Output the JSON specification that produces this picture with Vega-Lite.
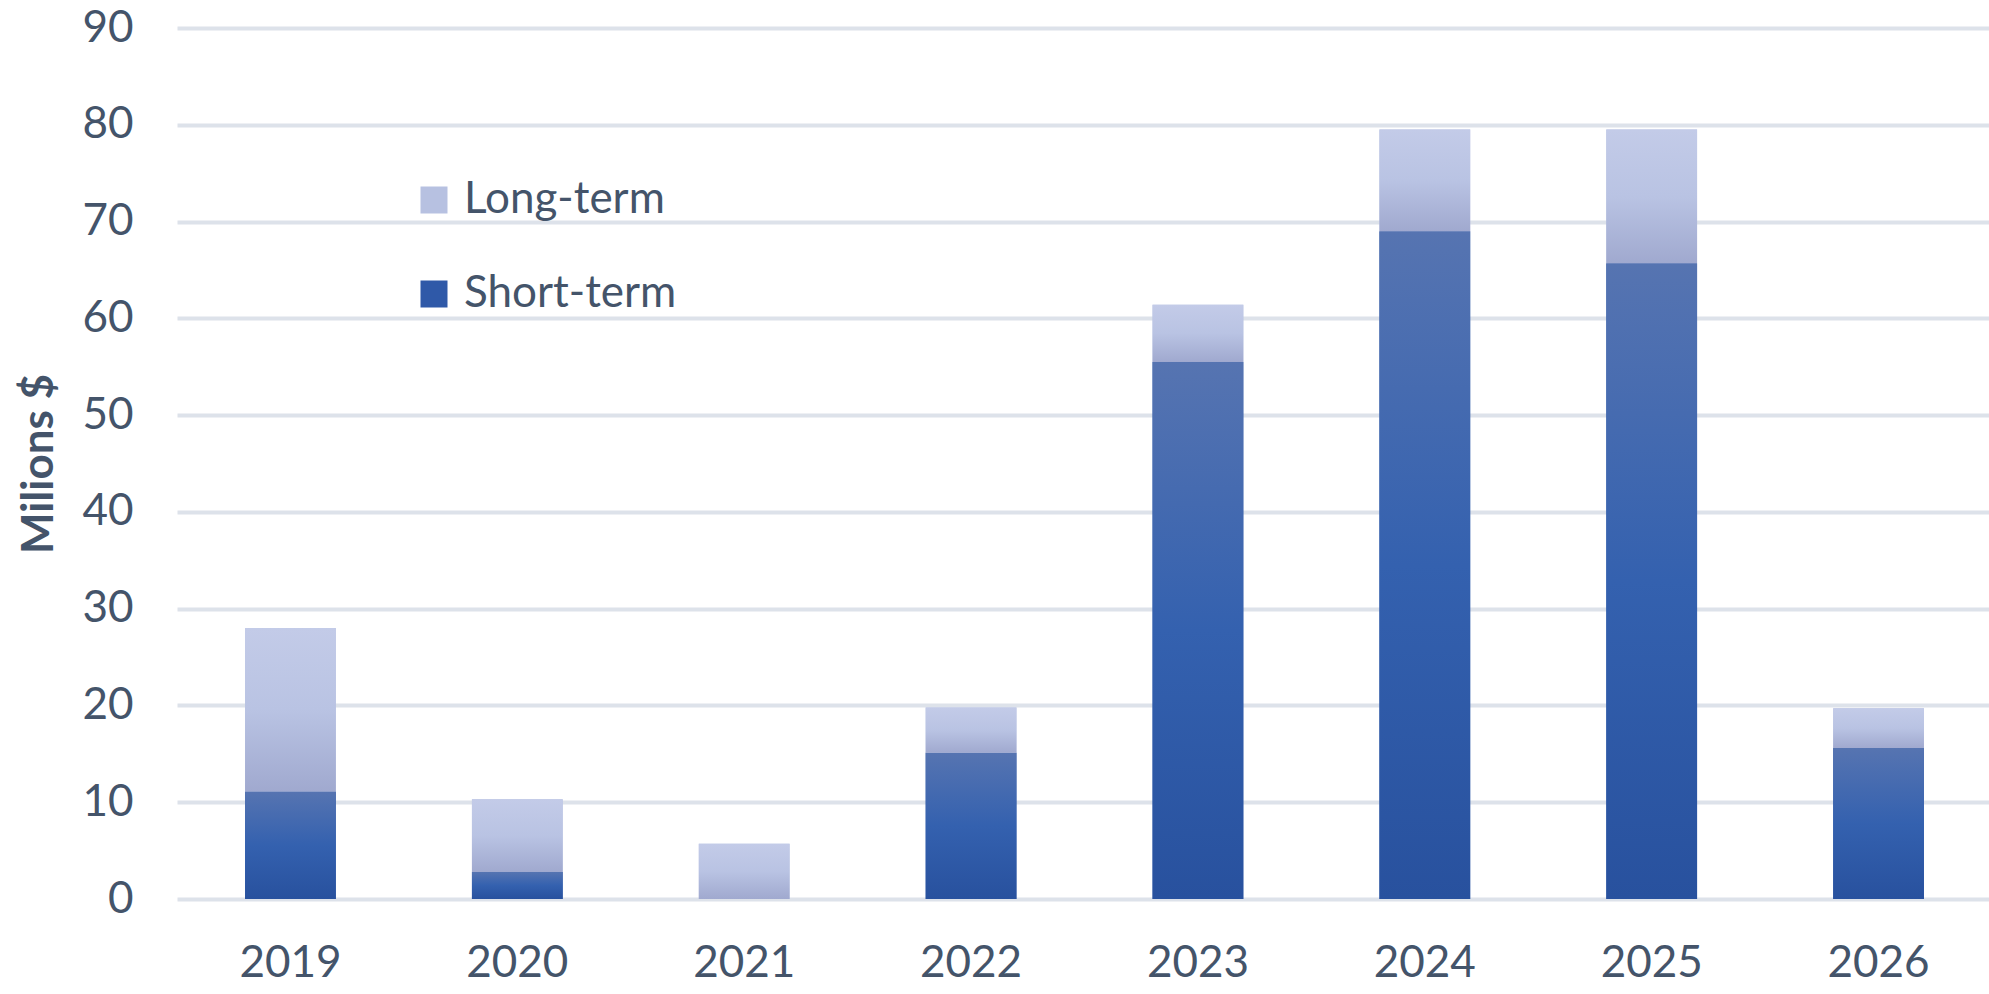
{
  "$schema": "https://vega.github.io/schema/vega-lite/v6.json",
  "autosize": "none",
  "width": 1815,
  "height": 871,
  "padding": {"left": 177, "top": 28, "right": 0, "bottom": 95},
  "background": "white",
  "config": {
    "view": {"stroke": null},
    "font": "Lato",
    "axis": {"labelColor": "#44546a", "titleColor": "#44546a"}
  },
  "data": {
    "values": [
      {"year": "2019", "series": "Short-term", "value": 11.1},
      {"year": "2019", "series": "Long-term", "value": 16.9},
      {"year": "2020", "series": "Short-term", "value": 2.8},
      {"year": "2020", "series": "Long-term", "value": 7.5},
      {"year": "2021", "series": "Short-term", "value": 0},
      {"year": "2021", "series": "Long-term", "value": 5.7},
      {"year": "2022", "series": "Short-term", "value": 15.1},
      {"year": "2022", "series": "Long-term", "value": 4.7},
      {"year": "2023", "series": "Short-term", "value": 55.5},
      {"year": "2023", "series": "Long-term", "value": 5.9},
      {"year": "2024", "series": "Short-term", "value": 69.0},
      {"year": "2024", "series": "Long-term", "value": 10.5},
      {"year": "2025", "series": "Short-term", "value": 65.7},
      {"year": "2025", "series": "Long-term", "value": 13.8},
      {"year": "2026", "series": "Short-term", "value": 15.6},
      {"year": "2026", "series": "Long-term", "value": 4.1}
    ]
  },
  "encoding": {
    "x": {
      "field": "year", "type": "nominal",
      "scale": {"paddingInner": 0.6, "paddingOuter": 0.3},
      "axis": {"title": null, "labelAngle": 0, "labelFontSize": 44, "labelPadding": 42, "ticks": false, "domain": false, "grid": false}
    },
    "y": {
      "field": "value", "type": "quantitative", "stack": "zero",
      "scale": {"domain": [0, 90], "nice": false},
      "axis": {
        "title": "Milions $", "titleFontSize": 44, "titleFontWeight": "bold", "titlePadding": 20,
        "values": [0, 10, 20, 30, 40, 50, 60, 70, 80, 90],
        "labelFontSize": 44, "labelPadding": 44, "ticks": false, "domain": false,
        "grid": true, "gridColor": "#dde2ea", "gridWidth": 4
      }
    },
    "order": {"field": "series", "sort": "descending"}
  },
  "layer": [
    {
      "mark": {"type": "bar"},
      "encoding": {
        "color": {
          "field": "series", "type": "nominal",
          "scale": {"domain": ["Long-term", "Short-term"], "range": ["#b7c1e1", "#2f59a8"]},
          "legend": {
            "title": null, "orient": "none", "legendX": 235, "legendY": 150,
            "symbolType": "square", "symbolSize": 729, "symbolStrokeWidth": 0,
            "labelFontSize": 44, "labelColor": "#44546a", "labelOffset": 8,
            "rowPadding": 50, "labelLimit": 400
          }
        }
      }
    },
    {
      "mark": {"type": "bar"},
      "encoding": {
        "detail": {"field": "series"},
        "fill": {
          "condition": {
            "test": "datum.series === 'Short-term'",
            "value": {"gradient": "linear", "x1": 0, "y1": 1, "x2": 0, "y2": 0,
              "stops": [{"offset": 0, "color": "#28519e"}, {"offset": 0.5, "color": "#3461af"}, {"offset": 1, "color": "#5674b1"}]}
          },
          "value": {"gradient": "linear", "x1": 0, "y1": 1, "x2": 0, "y2": 0,
            "stops": [{"offset": 0, "color": "#a0a9cf"}, {"offset": 0.5, "color": "#b9c3e3"}, {"offset": 1, "color": "#c3cbe8"}]}
        }
      }
    }
  ]
}
